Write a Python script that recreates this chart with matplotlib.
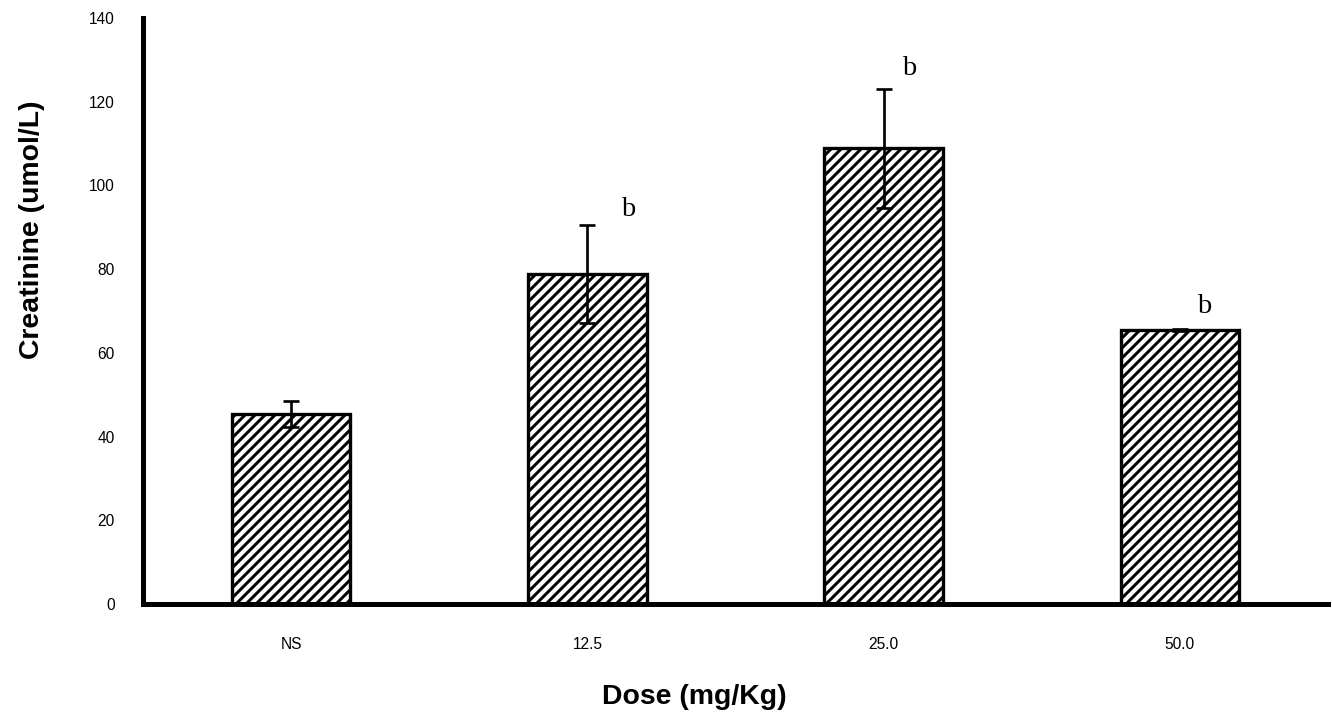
import matplotlib.pyplot as plt

plt.rcParams["font.family"] = ["Liberation Sans", "DejaVu Sans"]
plt.rcParams["hatch.linewidth"] = 1.8

doses = ["NS", "12.5", "25.0", "50.0"]
creatinine = [45.4, 78.8, 108.9, 65.5]
sem = [3.2, 11.7, 14.2, 0.3]
marks = ["", "b", "b", "b"]

# where the significance letters sit, in pixels from the error bar top
mark_offsets = [(0, 0), (41, 16), (26, 20), (24, 22)]

fig = plt.figure(figsize=(11.1, 5.975), dpi=120)
ax = fig.add_axes([0.1074, 0.1576, 0.8896, 0.8174])

x = range(len(doses))
ax.bar(x, creatinine, width=0.4, color="white", edgecolor="black",
       linewidth=2, hatch="////", zorder=2)
ax.errorbar(x, creatinine, yerr=sem, fmt="none", ecolor="black",
            elinewidth=1.6, capsize=5, capthick=1.6, zorder=3)

for i, (m, v, e) in enumerate(zip(marks, creatinine, sem)):
    if not m:
        continue
    dx, dy = mark_offsets[i]
    ax.annotate(m, (i, v + e), xytext=(dx, dy), textcoords="offset pixels",
                ha="center", va="center", fontsize=17,
                family=["Liberation Serif", "DejaVu Serif"])

ax.set_xlim(-0.5, 3.5)
ax.set_ylim(0, 140)
ax.set_yticks(range(0, 141, 20))
ax.set_xticks(list(x))
ax.set_xticklabels(doses)
ax.tick_params(length=0, labelsize=9.3)
ax.tick_params(axis="x", pad=20)
ax.tick_params(axis="y", pad=17)

for side in ["top", "right"]:
    ax.spines[side].set_visible(False)
for side in ["left", "bottom"]:
    ax.spines[side].set_linewidth(3)

ax.set_xlabel("Dose (mg/Kg)", fontsize=17, fontweight="bold")
ax.xaxis.set_label_coords(0.465, -0.137)
ax.set_ylabel("Creatinine (umol/L)", fontsize=17, fontweight="bold")
ax.yaxis.set_label_coords(-0.083, 0.638)

fig.savefig("out.png", dpi=120)
